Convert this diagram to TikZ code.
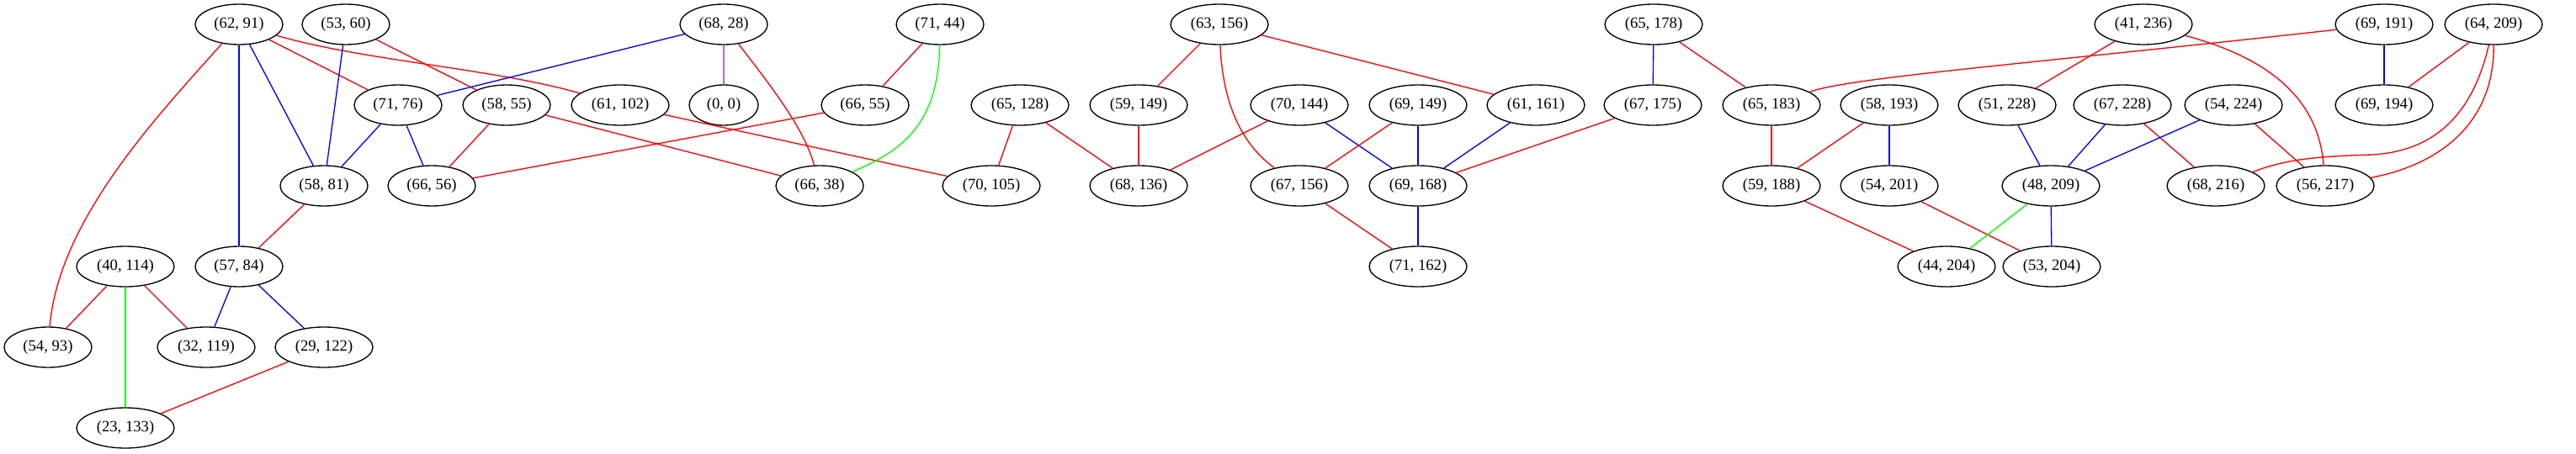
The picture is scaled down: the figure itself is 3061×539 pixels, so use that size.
\documentclass[tikz,border=0pt]{standalone}
\usepackage{fontspec}
\setmainfont{Liberation Serif}
\usetikzlibrary{shapes.geometric}
\definecolor{er}{RGB}{255,0,0}
\definecolor{eb}{RGB}{0,0,255}
\definecolor{eg}{RGB}{0,255,0}
\definecolor{ep}{RGB}{178,102,255}
\begin{document}
\begin{tikzpicture}[x=0.75pt,y=-0.75pt,
  nd/.style={ellipse,draw=black,line width=1pt,minimum width=78pt,minimum height=36pt,inner sep=0pt,font=\fontsize{14}{16}\selectfont},
  wd/.style={nd,minimum width=87pt},
  sm/.style={nd,minimum width=61.5pt},
  r/.style={draw=er,line width=1pt},
  b/.style={draw=eb,line width=1pt},
  g/.style={draw=eg,line width=1pt},
  p/.style={draw=ep,line width=1pt}]
\useasboundingbox (0,0) rectangle (3061,539);
% row 1
\node[nd] (n6291) at (284,29) {(62, 91)};
\node[nd] (n5360) at (411,29) {(53, 60)};
\node[nd] (n6828) at (860,29) {(68, 28)};
\node[nd] (n7144) at (1117,29) {(71, 44)};
\node[wd] (n63156) at (1449,29) {(63, 156)};
\node[wd] (n65178) at (1965,29) {(65, 178)};
\node[wd] (n41236) at (2547,29) {(41, 236)};
\node[wd] (n69191) at (2833,29) {(69, 191)};
\node[wd] (n64209) at (2963,29) {(64, 209)};
% row 2
\node[nd] (n7176) at (473,125) {(71, 76)};
\node[nd] (n5855) at (602,125) {(58, 55)};
\node[wd] (n61102) at (737,125) {(61, 102)};
\node[sm] (n00) at (860,125) {(0, 0)};
\node[nd] (n6655) at (1028,125) {(66, 55)};
\node[wd] (n65128) at (1212,125) {(65, 128)};
\node[wd] (n59149) at (1353,125) {(59, 149)};
\node[wd] (n70144) at (1544,125) {(70, 144)};
\node[wd] (n69149) at (1685,125) {(69, 149)};
\node[wd] (n61161) at (1825,125) {(61, 161)};
\node[wd] (n67175) at (1964,125) {(67, 175)};
\node[wd] (n65183) at (2105,125) {(65, 183)};
\node[wd] (n58193) at (2245,125) {(58, 193)};
\node[wd] (n51228) at (2385,125) {(51, 228)};
\node[wd] (n67228) at (2522,125) {(67, 228)};
\node[wd] (n54224) at (2654,125) {(54, 224)};
\node[wd] (n69194) at (2833,125) {(69, 194)};
% row 3
\node[nd] (n5881) at (385,221) {(58, 81)};
\node[nd] (n6656) at (513,221) {(66, 56)};
\node[nd] (n6638) at (974,221) {(66, 38)};
\node[wd] (n70105) at (1178,221) {(70, 105)};
\node[wd] (n68136) at (1353,221) {(68, 136)};
\node[wd] (n67156) at (1544,221) {(67, 156)};
\node[wd] (n69168) at (1685,221) {(69, 168)};
\node[wd] (n59188) at (2105,221) {(59, 188)};
\node[wd] (n54201) at (2245,221) {(54, 201)};
\node[wd] (n48209) at (2437,221) {(48, 209)};
\node[wd] (n68216) at (2633,221) {(68, 216)};
\node[wd] (n56217) at (2763,221) {(56, 217)};
% row 4
\node[wd] (n40114) at (149,317) {(40, 114)};
\node[nd] (n5784) at (284,317) {(57, 84)};
\node[wd] (n71162) at (1685,317) {(71, 162)};
\node[wd] (n44204) at (2313,317) {(44, 204)};
\node[wd] (n53204) at (2438,317) {(53, 204)};
% row 5
\node[nd] (n5493) at (57,413) {(54, 93)};
\node[wd] (n32119) at (245,413) {(32, 119)};
\node[wd] (n29122) at (385,413) {(29, 122)};
% row 6
\node[wd] (n23133) at (149,509) {(23, 133)};
% edges
\draw[r] (n6291) .. controls (190,135) and (70,260) .. (n5493);
\draw[b] (n6291) -- (n5784);
\draw[b] (n6291) -- (n5881);
\draw[r] (n6291) -- (n7176);
\draw[r] (n6291) .. controls (430,72) and (590,82) .. (n61102);
\draw[b] (n5360) -- (n5881);
\draw[r] (n5360) -- (n5855);
\draw[b] (n6828) -- (n7176);
\draw[p] (n6828) -- (n00);
\draw[r] (n6828) .. controls (910,95) and (955,150) .. (n6638);
\draw[b] (n7176) -- (n5881);
\draw[b] (n7176) -- (n6656);
\draw[r] (n5855) -- (n6656);
\draw[r] (n5855) -- (n6638);
\draw[r] (n61102) -- (n70105);
\draw[r] (n6655) -- (n6656);
\draw[r] (n7144) -- (n6655);
\draw[g] (n7144) .. controls (1115,150) and (1070,180) .. (n6638);
\draw[r] (n65128) -- (n70105);
\draw[r] (n65128) -- (n68136);
\draw[r] (n59149) -- (n68136);
\draw[r] (n63156) -- (n59149);
\draw[r] (n63156) .. controls (1453,130) and (1480,175) .. (n67156);
\draw[r] (n63156) -- (n61161);
\draw[r] (n70144) -- (n68136);
\draw[b] (n70144) -- (n69168);
\draw[r] (n69149) -- (n67156);
\draw[b] (n69149) -- (n69168);
\draw[b] (n61161) -- (n69168);
\draw[r] (n67175) -- (n69168);
\draw[b] (n65178) -- (n67175);
\draw[r] (n65178) -- (n65183);
\draw[r] (n67156) -- (n71162);
\draw[b] (n69168) -- (n71162);
\draw[r] (n69191) .. controls (2400,77) and (2200,92) .. (n65183);
\draw[b] (n69191) -- (n69194);
\draw[r] (n41236) -- (n51228);
\draw[r] (n41236) .. controls (2700,70) and (2755,120) .. (n56217);
\draw[r] (n64209) -- (n69194);
\draw[r] (n64209) .. controls (2935,150) and (2880,180) .. (2820,184) .. controls (2740,186) and (2710,192) .. (n68216);
\draw[r] (n64209) .. controls (2964,160) and (2880,200) .. (n56217);
\draw[r] (n65183) -- (n59188);
\draw[r] (n58193) -- (n59188);
\draw[b] (n58193) -- (n54201);
\draw[b] (n51228) -- (n48209);
\draw[b] (n67228) -- (n48209);
\draw[r] (n67228) -- (n68216);
\draw[b] (n54224) -- (n48209);
\draw[r] (n54224) -- (n56217);
\draw[r] (n59188) -- (n44204);
\draw[r] (n54201) -- (n53204);
\draw[g] (n48209) -- (n44204);
\draw[b] (n48209) -- (n53204);
\draw[r] (n40114) -- (n5493);
\draw[r] (n40114) -- (n32119);
\draw[g] (n40114) -- (n23133);
\draw[b] (n5784) -- (n32119);
\draw[b] (n5784) -- (n29122);
\draw[r] (n29122) -- (n23133);
\draw[r] (n5881) -- (n5784);
\end{tikzpicture}
\end{document}
